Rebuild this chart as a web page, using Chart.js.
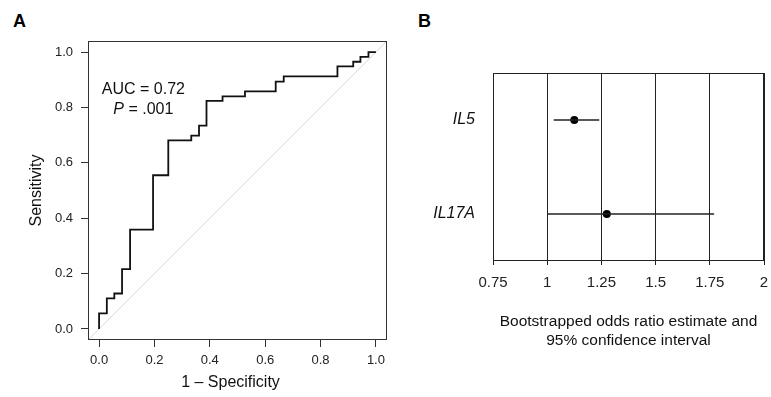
<!DOCTYPE html>
<html>
<head>
<meta charset="utf-8">
<script src="https://cdn.jsdelivr.net/npm/chart.js@4.4.1/dist/chart.umd.min.js"></script>
<style>
  body { margin: 0; background: #fff; width: 771px; height: 397px; position: relative; overflow: hidden; }
  .panel { position: absolute; font: bold 18px "Liberation Sans", Arial, sans-serif; line-height: 18px; color: #000; }
  #rocWrap { position: absolute; left: 0; top: 0; width: 400px; height: 397px; }
  #forestWrap { position: absolute; left: 400px; top: 0; width: 371px; height: 397px; }
</style>
</head>
<body>
<div class="panel" style="left:13px;top:12px">A</div>
<div class="panel" style="left:418px;top:12px">B</div>
<div id="rocWrap"><canvas id="rocChart"></canvas></div>
<div id="forestWrap"><canvas id="forestChart"></canvas></div>
<script>
// panel A: ROC curve (1 - specificity vs sensitivity)
const fpr = [0, 0.028, 0.055, 0.083, 0.112, 0.195, 0.25, 0.333, 0.361, 0.388, 0.446, 0.527, 0.638, 0.667, 0.861, 0.918, 0.944, 0.973, 1.0];
const tpr = [0, 0.056, 0.110, 0.128, 0.216, 0.359, 0.555, 0.681, 0.698, 0.734, 0.824, 0.840, 0.858, 0.893, 0.912, 0.948, 0.965, 0.983, 1.0];
const chanceLine = [-0.04, 1.04];
const rocTicks = [0, 0.2, 0.4, 0.6, 0.8, 1.0];
const rocTickLabels = ['0.0', '0.2', '0.4', '0.6', '0.8', '1.0'];

// panel B: bootstrapped odds ratios
const genes = ['IL5', 'IL17A'];
const orEst = [1.125, 1.275];
const ciLow = [1.03, 1.0];
const ciHigh = [1.24, 1.77];
const forestTicks = [0.75, 1, 1.25, 1.5, 1.75, 2];
const forestTickLabels = ['0.75', '1', '1.25', '1.5', '1.75', '2'];

Chart.defaults.font.family = '"Liberation Sans", Arial, sans-serif';
Chart.defaults.color = '#222';

const FONT = '"Liberation Sans", Arial, sans-serif';

// keep label overhang from shrinking the plot box
const noSidePad = s => { s.paddingLeft = 0; s.paddingRight = 0; };

const rocNotes = {
    id: 'rocNotes',
    afterDraw(chart) {
        const { ctx, chartArea: a, scales: { x, y } } = chart;
        ctx.save();
        ctx.strokeStyle = '#333';
        ctx.lineWidth = 1;
        ctx.strokeRect(a.left + 0.5, a.top + 0.5, a.width - 1, a.height - 1);

        ctx.fillStyle = '#111';
        ctx.textBaseline = 'middle';
        ctx.textAlign = 'center';
        ctx.font = '16px ' + FONT;
        const cx = x.getPixelForValue(0.16);
        ctx.fillText('AUC = 0.72', cx, y.getPixelForValue(0.863));

        // "P = .001" with italic P
        ctx.font = 'italic 16px ' + FONT;
        const wP = ctx.measureText('P').width;
        ctx.font = '16px ' + FONT;
        const wRest = ctx.measureText(' = .001').width;
        const left = cx - (wP + wRest) / 2;
        const py = y.getPixelForValue(0.794);
        ctx.textAlign = 'left';
        ctx.font = 'italic 16px ' + FONT;
        ctx.fillText('P', left, py);
        ctx.font = '16px ' + FONT;
        ctx.fillText(' = .001', left + wP, py);

        // x-axis title
        ctx.textAlign = 'center';
        ctx.fillText('1 \u2013 Specificity', (a.left + a.right) / 2 - 7, 383);
        ctx.restore();
    }
};

new Chart(document.getElementById('rocChart'), {
    type: 'scatter',
    data: {
        datasets: [{
            data: fpr.map((v, i) => ({ x: v, y: tpr[i] })),
            showLine: true,
            stepped: 'after',
            borderColor: '#111',
            borderWidth: 1.8,
            pointRadius: 0
        }, {
            data: chanceLine.map(v => ({ x: v, y: v })),
            showLine: true,
            borderColor: '#d6d6d6',
            borderWidth: 1,
            pointRadius: 0
        }]
    },
    options: {
        animation: false,
        maintainAspectRatio: false,
        layout: { padding: { top: 41, right: 13, left: 0, bottom: 0 } },
        plugins: { legend: { display: false }, tooltip: { enabled: false } },
        scales: {
            x: {
                type: 'linear', min: -0.04, max: 1.04,
                afterBuildTicks: s => { s.ticks = rocTicks.map(v => ({ value: v })); },
                afterFit: s => { s.height = 57; noSidePad(s); },
                grid: { drawOnChartArea: false, tickLength: 7, color: '#333' },
                border: { display: false },
                ticks: { font: { size: 13 }, padding: 6, maxRotation: 0, callback: (v, i) => rocTickLabels[i] }
            },
            y: {
                type: 'linear', min: -0.04, max: 1.04,
                afterBuildTicks: s => { s.ticks = rocTicks.map(v => ({ value: v })); },
                afterFit: s => { s.width = 88; },
                grid: { drawOnChartArea: false, tickLength: 7, color: '#333' },
                border: { display: false },
                ticks: { font: { size: 13 }, padding: 8, callback: (v, i) => rocTickLabels[i] },
                title: { display: true, text: 'Sensitivity', font: { size: 16 }, color: '#111', padding: { top: 27, bottom: 0 } }
            }
        }
    },
    plugins: [rocNotes]
});

const boxOutline = {
    id: 'boxOutline',
    afterDraw(chart) {
        const { ctx, chartArea: a } = chart;
        ctx.save();
        ctx.strokeStyle = '#222';
        ctx.lineWidth = 1;
        ctx.strokeRect(a.left + 0.5, a.top + 0.5, a.width - 1, a.height - 1);
        ctx.restore();
    }
};

const rowY = genes.map((g, i) => genes.length - i);

new Chart(document.getElementById('forestChart'), {
    type: 'scatter',
    data: {
        datasets: genes.map((g, i) => ({
            data: [{ x: ciLow[i], y: rowY[i] }, { x: ciHigh[i], y: rowY[i] }],
            showLine: true,
            borderColor: '#222',
            borderWidth: 1.3,
            pointRadius: 0
        })).concat([{
            data: orEst.map((v, i) => ({ x: v, y: rowY[i] })),
            pointRadius: 4,
            pointBackgroundColor: '#000',
            pointBorderColor: '#000',
            pointBorderWidth: 0
        }])
    },
    options: {
        animation: false,
        maintainAspectRatio: false,
        layout: { padding: { top: 73, right: 7, left: 0, bottom: 0 } },
        plugins: { legend: { display: false }, tooltip: { enabled: false } },
        scales: {
            x: {
                type: 'linear', min: 0.75, max: 2,
                afterBuildTicks: s => { s.ticks = forestTicks.map(v => ({ value: v })); },
                afterFit: s => { s.height = 136; noSidePad(s); },
                grid: { color: '#222', lineWidth: 1, tickLength: 4 },
                border: { display: false },
                ticks: { font: { size: 15 }, padding: 9, maxRotation: 0, callback: (v, i) => forestTickLabels[i] },
                title: {
                    display: true,
                    text: ['Bootstrapped odds ratio estimate and', '95% confidence interval'],
                    font: { size: 15.5, lineHeight: 1.27 },
                    color: '#111',
                    padding: { top: 0, bottom: 46 }
                }
            },
            y: {
                type: 'linear', min: 0.5, max: genes.length + 0.5,
                afterBuildTicks: s => { s.ticks = rowY.map(v => ({ value: v })); },
                afterFit: s => { s.width = 93; },
                grid: { display: false },
                border: { display: false },
                ticks: { font: { size: 16, style: 'italic' }, color: '#111', padding: 10,
                         callback: v => genes[rowY.indexOf(v)] }
            }
        }
    },
    plugins: [boxOutline]
});
</script>
</body>
</html>
